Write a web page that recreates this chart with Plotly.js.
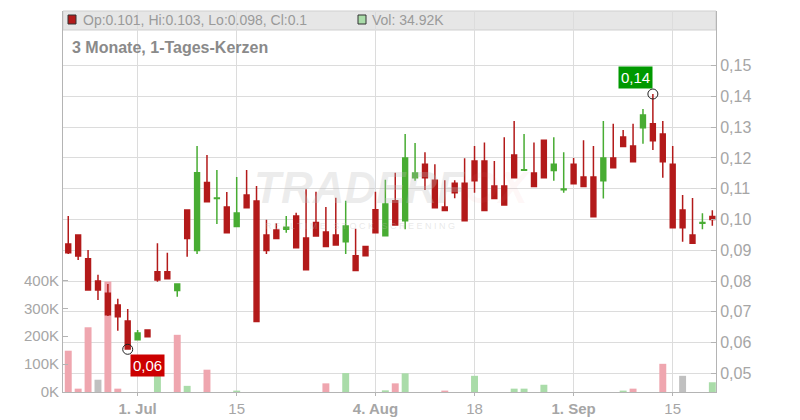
<!DOCTYPE html>
<html>
<head>
<meta charset="utf-8">
<script src="https://cdn.plot.ly/plotly-3.0.1.min.js"></script>
<style>html,body{margin:0;padding:0;background:#fff;}#chart{width:800px;height:420px;}</style>
</head>
<body>
<div id="chart"></div>
<script>
// ---- data ----
const dates = [
  '2025-06-20',
  '2025-06-23','2025-06-24','2025-06-25','2025-06-26','2025-06-27',
  '2025-06-30','2025-07-01','2025-07-02','2025-07-03','2025-07-04',
  '2025-07-07','2025-07-08','2025-07-09','2025-07-10','2025-07-11',
  '2025-07-14','2025-07-15','2025-07-16','2025-07-17','2025-07-18',
  '2025-07-21','2025-07-22','2025-07-23','2025-07-24','2025-07-25',
  '2025-07-28','2025-07-29','2025-07-30','2025-07-31','2025-08-01',
  '2025-08-04','2025-08-05','2025-08-06','2025-08-07','2025-08-08',
  '2025-08-11','2025-08-12','2025-08-13','2025-08-14','2025-08-15',
  '2025-08-18','2025-08-19','2025-08-20','2025-08-21','2025-08-22',
  '2025-08-25','2025-08-26','2025-08-27','2025-08-28','2025-08-29',
  '2025-09-01','2025-09-02','2025-09-03','2025-09-04','2025-09-05',
  '2025-09-08','2025-09-09','2025-09-10','2025-09-11','2025-09-12',
  '2025-09-15','2025-09-16','2025-09-17','2025-09-18','2025-09-19'
];
const opens = [
  0.0920, 0.0950,0.0872,0.0800,0.0760,0.0722, 0.0670,0.0609,0.0641,0.0830,0.0830,
  0.0769,0.1031,0.0899,0.1120,0.1068, 0.1041,0.0977,0.1080,0.1060,0.0950,
  0.0966,0.0968,0.1011,0.0940,0.0990, 0.0959,0.0950,0.0928,0.0882,0.0912,
  0.1032,0.0947,0.1061,0.0996,0.1136, 0.1180,0.1128,0.1041,0.1118,0.1118,
  0.1190,0.1190,0.1109,0.1109,0.1210, 0.1160,0.1151,0.1258,0.1159,0.1097,
  0.1180,0.1138,0.1138,0.1126,0.1200, 0.1268,0.1239,0.1298,0.1311,0.1278,
  0.1180,0.1031,0.0950,0.0988,0.1010
];
const highs = [
  0.1011, 0.0950,0.0901,0.0820,0.0790,0.0742, 0.0709,0.0641,0.0641,0.0923,0.0892,
  0.0790,0.1031,0.1239,0.1210,0.1161, 0.1089,0.1138,0.1161,0.1109,0.0999,
  0.0988,0.1011,0.1022,0.1098,0.1090, 0.1041,0.1071,0.1061,0.0970,0.0912,
  0.1090,0.1129,0.1152,0.1278,0.1249, 0.1219,0.1180,0.1128,0.1128,0.1199,
  0.1239,0.1250,0.1190,0.1267,0.1320, 0.1278,0.1250,0.1258,0.1267,0.1219,
  0.1200,0.1258,0.1239,0.1320,0.1311, 0.1291,0.1311,0.1359,0.1408,0.1320,
  0.1239,0.1080,0.1070,0.1020,0.1030
];
const lows = [
  0.0888, 0.0868,0.0768,0.0738,0.0686,0.0638, 0.0578,0.0609,0.0619,0.0798,0.0807,
  0.0749,0.0879,0.0888,0.1058,0.0985, 0.0957,0.0977,0.1038,0.0668,0.0888,
  0.0938,0.0957,0.0908,0.0837,0.0946, 0.0912,0.0917,0.0888,0.0834,0.0882,
  0.0957,0.0947,0.0982,0.0968,0.1126, 0.1096,0.1038,0.1029,0.1069,0.0996,
  0.1087,0.1029,0.1068,0.1047,0.1136, 0.1160,0.1107,0.1136,0.1126,0.1087,
  0.1116,0.1107,0.1009,0.1068,0.1168, 0.1237,0.1188,0.1246,0.1226,0.1136,
  0.0973,0.0928,0.0923,0.0968,0.0980
];
const closes = [
  0.0892, 0.0881,0.0771,0.0771,0.0690,0.0684, 0.0579,0.0631,0.0619,0.0803,0.0807,
  0.0790,0.0938,0.1152,0.1058,0.1070, 0.0957,0.1021,0.1038,0.0668,0.0899,
  0.0938,0.0975,0.0908,0.0837,0.0946, 0.0912,0.0917,0.0979,0.0834,0.0882,
  0.0957,0.1050,0.0982,0.1200,0.1151, 0.1136,0.1038,0.1029,0.1087,0.0996,
  0.1126,0.1029,0.1068,0.1047,0.1136, 0.1162,0.1107,0.1136,0.1180,0.1099,
  0.1116,0.1107,0.1009,0.1200,0.1168, 0.1237,0.1188,0.1340,0.1256,0.1188,
  0.0973,0.0973,0.0923,0.0990,0.1000
];
const volumes = [
  148000, 12000,232000,44000,396000,12000, 0,0,0,78000,0,
  205000,22000,0,80000,0, 0,5000,0,0,0,
  0,0,0,0,0, 31000,0,68000,0,0,
  0,6000,31000,67000,0, 0,0,5000,0,0,
  58000,0,0,0,12000, 12000,0,26000,0,0,
  0,0,0,0,0, 5000,12000,0,0,101000,
  0,58000,0,0,34920
];
const xTickDates = ['2025-07-01','2025-07-15','2025-08-04','2025-08-18','2025-09-01','2025-09-15'];
const xTickLabels = ['<b>1. Jul</b>','15','<b>4. Aug</b>','18','<b>1. Sep</b>','15'];
const volTicks = [0, 100000, 200000, 300000, 400000];
const volTickLabels = ['0K','100K','200K','300K','400K'];
const priceTicks = [0.05,0.06,0.07,0.08,0.09,0.10,0.11,0.12,0.13,0.14,0.15];

// ---- styles ----
const RED = '#B31A1A', GREEN = '#48AC33';
const VOL_DOWN = '#EFA6AF', VOL_UP = '#AADCA9', VOL_FLAT = '#C0C0C0';
const AXIS = '#B4B4B4', GRID = '#DCDCDC', TICKTXT = '#A6A6A6';

// volume colour: close vs previous close
const volColors = closes.map((c, i) => {
  const prev = i === 0 ? opens[0] : closes[i - 1];
  if (Math.abs(c - prev) < 1e-9) return VOL_FLAT;
  return c > prev ? VOL_UP : VOL_DOWN;
});

// extreme points
let minIdx = 0, maxIdx = 0;
lows.forEach((v, i) => { if (v < lows[minIdx]) minIdx = i; });
highs.forEach((v, i) => { if (v > highs[maxIdx]) maxIdx = i; });
const fmt = v => v.toFixed(2).replace('.', ',');

const traces = [
  {
    type: 'bar', x: dates, y: volumes, yaxis: 'y', xaxis: 'x',
    marker: { color: volColors, line: { width: 0 } }, width: 0.7,
    hoverinfo: 'skip'
  },
  {
    type: 'candlestick', x: dates, open: opens, high: highs, low: lows, close: closes,
    xaxis: 'x', yaxis: 'y2', whiskerwidth: 0,
    increasing: { line: { color: GREEN, width: 1.5 }, fillcolor: GREEN },
    decreasing: { line: { color: RED, width: 1.5 }, fillcolor: RED },
    hoverinfo: 'skip'
  },
  {
    type: 'scatter', mode: 'markers', xaxis: 'x', yaxis: 'y2',
    x: [dates[minIdx], dates[maxIdx]], y: [lows[minIdx], highs[maxIdx]],
    marker: { symbol: 'circle-open', size: 10, color: '#222', line: { width: 1 } },
    hoverinfo: 'skip'
  }
];

const plotTop = 11, plotBottom = 392, plotH = plotBottom - plotTop;
const py = y => (plotBottom - y) / plotH;       // pixel y -> paper y
const px = x => (x - 63) / (716 - 63);          // pixel x -> paper x

const layout = {
  width: 800, height: 420,
  margin: { l: 63, r: 84, t: plotTop, b: 420 - plotBottom, pad: 0 },
  paper_bgcolor: '#fff', plot_bgcolor: '#fff',
  separators: ',.',
  showlegend: false, hovermode: false,
  font: { family: 'Liberation Sans, Arial, sans-serif', color: TICKTXT },
  title: {
    text: '<b>3 Monate, 1-Tages-Kerzen</b>',
    x: 72 / 800, xanchor: 'left', y: 1 - 47 / 420, yanchor: 'middle',
    font: { size: 16, color: '#8A8A8A', family: 'Liberation Sans, Arial, sans-serif' }
  },
  xaxis: {
    type: 'category', range: [-0.53, 65.37],
    tickmode: 'array', tickvals: xTickDates, ticktext: xTickLabels,
    showgrid: true, gridcolor: GRID, gridwidth: 1,
    showline: true, linecolor: AXIS, linewidth: 1,
    ticks: 'outside', ticklen: 3, tickcolor: AXIS,
    tickfont: { size: 15, color: TICKTXT },
    rangeslider: { visible: false }, fixedrange: true
  },
  yaxis: {
    range: [0, 1365600], side: 'left',
    tickmode: 'array', tickvals: volTicks, ticktext: volTickLabels,
    showgrid: false, zeroline: false,
    showline: true, linecolor: AXIS, linewidth: 1,
    ticks: 'inside', ticklen: 5, tickcolor: AXIS,
    tickfont: { size: 15, color: TICKTXT }, fixedrange: true
  },
  yaxis2: {
    overlaying: 'y', side: 'right',
    range: [0.05 - 18.7 / 3076, 0.05 + 362.3 / 3076],
    tickmode: 'array', tickvals: priceTicks, tickformat: '.2f',
    showgrid: true, gridcolor: GRID, gridwidth: 1, zeroline: false,
    showline: true, linecolor: AXIS, linewidth: 1,
    ticks: 'inside', ticklen: 5, tickcolor: AXIS,
    tickfont: { size: 16, color: TICKTXT }, fixedrange: true
  },
  shapes: [
    { type: 'rect', xref: 'paper', yref: 'paper', layer: 'below',
      x0: 0, x1: 1, y0: py(30), y1: 1,
      fillcolor: '#E6E6E6', line: { color: '#CFCFCF', width: 1 } },
    { type: 'rect', xref: 'paper', yref: 'paper',
      x0: px(68), x1: px(76), y0: py(24), y1: py(15),
      fillcolor: RED, line: { color: '#333', width: 1 } },
    { type: 'rect', xref: 'paper', yref: 'paper',
      x0: px(358), x1: px(366), y0: py(24), y1: py(15),
      fillcolor: VOL_UP, line: { color: '#333', width: 1 } }
  ],
  annotations: [
    { xref: 'paper', yref: 'paper', x: px(81), y: py(20), xanchor: 'left', yanchor: 'middle',
      text: 'Op:' + opens[opens.length-1] + ', Hi:' + highs[highs.length-1] + ', Lo:' + lows[lows.length-1] + ', Cl:' + closes[closes.length-1],
      showarrow: false, font: { size: 14, color: '#9A9A9A' } },
    { xref: 'paper', yref: 'paper', x: px(370), y: py(20), xanchor: 'left', yanchor: 'middle',
      text: 'Vol: ' + (volumes[volumes.length-1] / 1000).toFixed(2) + 'K',
      showarrow: false, font: { size: 14, color: '#9A9A9A' } },
    { xref: 'paper', yref: 'paper', x: px(392), y: py(188), xanchor: 'center', yanchor: 'middle',
      text: '<b><i>TRADERF<span style="color:rgba(240,130,140,0.22)">OX</span></i></b>',
      showarrow: false, font: { size: 44, color: 'rgba(190,190,190,0.28)' } },
    { xref: 'paper', yref: 'paper', x: px(360), y: py(226), xanchor: 'center', yanchor: 'middle',
      text: 'R E A L T I M E   S T O C K   S C R E E N I N G',
      showarrow: false, font: { size: 9, color: 'rgba(190,190,190,0.35)' } },
    { xref: 'x', yref: 'y2', x: dates[minIdx], y: lows[minIdx], xanchor: 'left', yanchor: 'top',
      xshift: 2, yshift: -5, text: fmt(lows[minIdx]), showarrow: false,
      bgcolor: '#CC0000', borderpad: 2, font: { size: 15, color: '#fff' } },
    { xref: 'x', yref: 'y2', x: dates[maxIdx], y: highs[maxIdx], xanchor: 'right', yanchor: 'bottom',
      xshift: 0, yshift: 5, text: fmt(highs[maxIdx]), showarrow: false,
      bgcolor: '#009900', borderpad: 2, font: { size: 15, color: '#fff' } }
  ]
};

Plotly.newPlot('chart', traces, layout, { staticPlot: true, displayModeBar: false });
</script>
</body>
</html>
